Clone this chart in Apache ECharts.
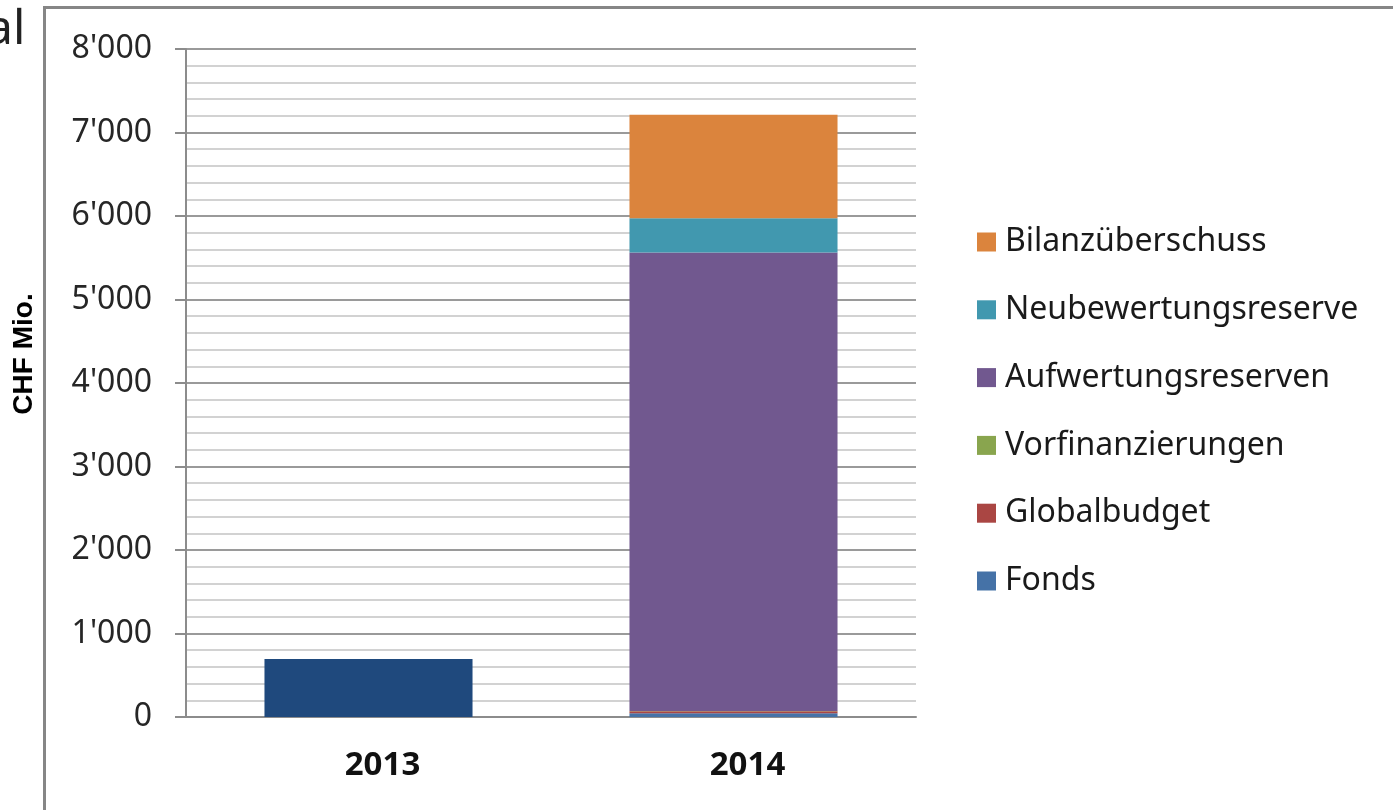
<!DOCTYPE html>
<html>
<head>
<meta charset="utf-8">
<title>CHF Mio.</title>
<script src="https://cdn.jsdelivr.net/npm/echarts@6/dist/echarts.min.js"></script>
<style>
  html, body { margin: 0; padding: 0; background: #fff; }
  #main { width: 1393px; height: 810px; }
</style>
</head>
<body>
<div id="main"></div>
<script>
// categories
const years = ["2013", "2014"];
// series values (CHF Mio.)
const total2013 = [695, null];
const fonds = [null, 45];
const globalbudget = [null, 25];
const vorfinanzierungen = [null, 2];
const aufwertungsreserven = [null, 5490];
const neubewertungsreserve = [null, 411];
const bilanzueberschuss = [null, 1241];
// legend order, top to bottom
const legendNames = ["Bilanzüberschuss", "Neubewertungsreserve", "Aufwertungsreserven", "Vorfinanzierungen", "Globalbudget", "Fonds"];

const chart = echarts.init(document.getElementById("main"));

// helper for stacked bar series
function bar(name, data, color) {
  return {
    name: name,
    type: "bar",
    stack: "total",
    data: data,
    barCategoryGap: "43%",
    itemStyle: { color: color },
    emphasis: { disabled: true }
  };
}

const option = {
  animation: false,
  textStyle: { fontFamily: "Noto Sans" },
  grid: { left: 186, right: 477, top: 49, bottom: 93 },
  graphic: [
    // outer chart frame
    {
      type: "rect",
      shape: { x: 44.5, y: 7.5, width: 1400, height: 900 },
      style: { fill: "none", stroke: "#868686", lineWidth: 3 }
    },
    // clipped text from the page behind the chart
    {
      type: "text",
      left: -14,
      top: 6,
      style: { text: "al", font: "48px 'Noto Sans'", fill: "#222" }
    },
    {
      type: "text",
      x: 24,
      y: 354,
      rotation: Math.PI / 2,
      style: {
        text: "CHF Mio.",
        font: "bold 28px 'Liberation Sans'",
        fill: "#000",
        align: "center",
        verticalAlign: "middle"
      }
    }
  ],
  legend: {
    data: legendNames,
    orient: "vertical",
    left: 977,
    top: 226,
    padding: 0,
    icon: "rect",
    itemWidth: 19,
    itemHeight: 19,
    itemGap: 35.8,
    textStyle: { fontSize: 32, color: "#1a1a1a", padding: [0, 0, 0, 4] }
  },
  xAxis: {
    type: "category",
    data: years,
    axisLine: { lineStyle: { color: "#8c8c8c", width: 2 } },
    axisTick: { show: false },
    axisLabel: { fontSize: 33, fontWeight: "bold", color: "#111", margin: 32, padding: [0, 0, 0, 28] }
  },
  yAxis: {
    type: "value",
    min: 0,
    max: 8000,
    interval: 1000,
    axisLine: { show: true, lineStyle: { color: "#8c8c8c", width: 2 } },
    axisTick: { show: true, length: 11, lineStyle: { color: "#8c8c8c", width: 2 } },
    minorTick: { show: false, splitNumber: 5 },
    splitLine: { lineStyle: { color: "#9a9a9a", width: 2 } },
    minorSplitLine: { show: true, lineStyle: { color: "#d2d2d2", width: 2 } },
    axisLabel: {
      fontSize: 32,
      color: "#262626",
      margin: 34,
      formatter: v => String(v).replace(/\B(?=(\d{3})+(?!\d))/g, "'")
    }
  },
  series: [
    bar("2013", total2013, "#1f497d"),
    bar("Fonds", fonds, "#4572a7"),
    bar("Globalbudget", globalbudget, "#aa4643"),
    bar("Vorfinanzierungen", vorfinanzierungen, "#89a54e"),
    bar("Aufwertungsreserven", aufwertungsreserven, "#71588f"),
    bar("Neubewertungsreserve", neubewertungsreserve, "#4198af"),
    bar("Bilanzüberschuss", bilanzueberschuss, "#db843d")
  ]
};

chart.setOption(option);
</script>
</body>
</html>
